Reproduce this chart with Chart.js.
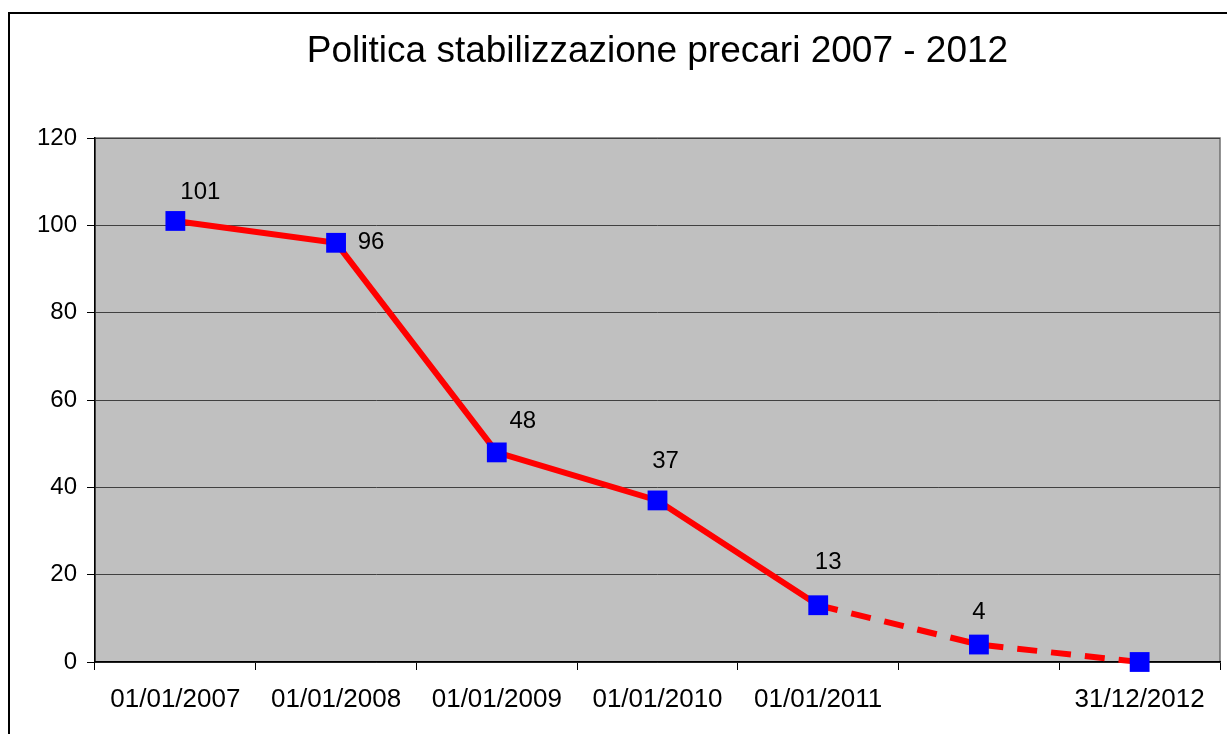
<!DOCTYPE html>
<html>
<head>
<meta charset="utf-8">
<script src="https://cdn.jsdelivr.net/npm/chart.js@4.4.1/dist/chart.umd.min.js"></script>
<style>
  html, body { margin: 0; padding: 0; background: #fff; overflow: hidden; }
  #frame { position: absolute; left: 8px; top: 12px; width: 1300px; height: 800px;
           border-left: 2px solid #000; border-top: 2px solid #000; }
  #wrap { position: absolute; left: 0; top: 0; width: 1227px; height: 734px; }
</style>
</head>
<body>
<div id="frame"></div>
<div id="wrap"><canvas id="chart"></canvas></div>
<script>
const titleText = "Politica stabilizzazione precari 2007 - 2012";
const dates = ["01/01/2007", "01/01/2008", "01/01/2009", "01/01/2010", "01/01/2011", "31/08/2011", "31/12/2012"];
const precari = [101, 96, 48, 37, 13, 4, 0];
const shownLabels = ["101", "96", "48", "37", "13", "4", ""];
const yTicks = [0, 20, 40, 60, 80, 100, 120];

// where each value label sits relative to its marker (style only)
const labelNudge = [[25, -29], [35, 0], [26, -31], [8, -39], [10, -43], [0, -32], [0, 0]];

const FONT = "Arial, 'Liberation Sans', sans-serif";

// grey plot area + frame around it
const plotBg = {
  id: "plotBg",
  beforeDraw(chart) {
    const { ctx, chartArea: a } = chart;
    ctx.save();
    ctx.fillStyle = "#c0c0c0";
    ctx.fillRect(a.left, a.top, a.right - a.left, a.bottom - a.top);
    ctx.strokeStyle = "#707070";
    ctx.lineWidth = 1.5;
    ctx.strokeRect(a.left, a.top, a.right - a.left, a.bottom - a.top);
    ctx.restore();
  }
};

// title centred over the plot, value labels, half hidden 6th date
const extras = {
  id: "extras",
  afterDraw(chart) {
    const { ctx, chartArea: a } = chart;
    ctx.save();
    ctx.fillStyle = "#000";
    ctx.font = "37px " + FONT;
    ctx.textAlign = "center";
    ctx.textBaseline = "alphabetic";
    ctx.fillText(titleText, (a.left + a.right) / 2, 62);

    const meta = chart.getDatasetMeta(0);
    ctx.font = "24px " + FONT;
    ctx.textBaseline = "middle";
    meta.data.forEach((pt, i) => {
      if (!shownLabels[i]) return;
      ctx.fillText(shownLabels[i], pt.x + labelNudge[i][0], pt.y + labelNudge[i][1]);
    });

    // the 6th date label is covered in the original, only its foot shows
    const xs = chart.scales.x;
    const cx = xs.getPixelForTick(5);
    ctx.fillStyle = "#fff";
    ctx.fillRect(cx - 75, xs.top + 10, 150, 700 - xs.top);
    ctx.restore();
  }
};

new Chart(document.getElementById("chart"), {
  type: "line",
  data: {
    labels: dates,
    datasets: [{
      data: precari,
      clip: false,
      borderColor: "#ff0000",
      borderWidth: 6,
      tension: 0,
      pointStyle: "rect",
      pointRadius: 14,
      pointHoverRadius: 14,
      pointBackgroundColor: "#0000ff",
      pointBorderColor: "#0000ff",
      pointBorderWidth: 0,
      segment: {
        borderDash: (c) => (c.p0DataIndex >= 4 ? [20, 14] : undefined)
      }
    }]
  },
  options: {
    responsive: true,
    maintainAspectRatio: false,
    animation: false,
    layout: { autoPadding: false, padding: { top: 138, left: 0, right: 7, bottom: 0 } },
    plugins: { legend: { display: false }, tooltip: { enabled: false }, title: { display: false } },
    scales: {
      x: {
        offset: true,
        grid: { offset: true, drawOnChartArea: false, color: "#000", tickLength: 8, tickWidth: 1 },
        border: { color: "#000", width: 1.5 },
        ticks: { color: "#000", font: { family: FONT, size: 26 }, padding: 14, maxRotation: 0, autoSkip: false },
        afterFit(s) { s.height = 72; s.paddingLeft = 0; s.paddingRight = 0; }
      },
      y: {
        min: 0,
        max: 120,
        afterBuildTicks(s) { s.ticks = yTicks.map(v => ({ value: v })); },
        grid: { color: "#404040", lineWidth: 1, tickLength: 8, tickColor: "#000" },
        border: { color: "#000", width: 1.5 },
        ticks: { color: "#000", font: { family: FONT, size: 24 }, padding: 10 },
        afterFit(s) { s.width = 95; }
      }
    }
  },
  plugins: [plotBg, extras]
});
</script>
</body>
</html>
